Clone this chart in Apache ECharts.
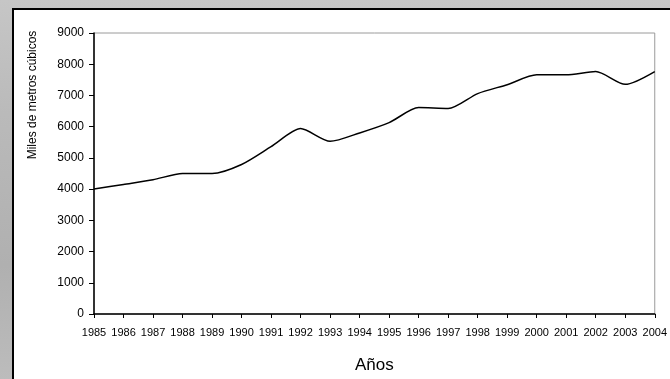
<!DOCTYPE html>
<html>
<head>
<meta charset="utf-8">
<script src="https://cdn.jsdelivr.net/npm/echarts@6/dist/echarts.min.js"></script>
<style>
html,body{margin:0;padding:0;width:670px;height:379px;overflow:hidden;}
body{background:linear-gradient(180deg,#c6c6c6 0%,#bababa 30%,#b0b0b0 70%,#bcbcbc 100%);position:relative;}
#panel{position:absolute;left:12px;top:8px;width:700px;height:400px;background:#fff;border:2px solid #000;box-sizing:border-box;}
#chart{position:absolute;left:0;top:0;width:670px;height:379px;}
</style>
</head>
<body>
<div id="panel"></div>
<div id="chart"></div>
<script>
var years = ['1985','1986','1987','1988','1989','1990','1991','1992','1993','1994','1995','1996','1997','1998','1999','2000','2001','2002','2003','2004'];
var volumes = [4000,4150,4300,4500,4500,4790,5360,5940,5530,5800,6130,6610,6580,7060,7345,7660,7660,7765,7355,7765];
var yTicks = {min:0, max:9000, interval:1000};
var yAxisName = 'Miles de metros cúbicos';
var xAxisName = 'Años';

var FONT = '"Liberation Sans", Arial, sans-serif';
var chart = echarts.init(document.getElementById('chart'), null, {renderer:'canvas'});
chart.setOption({
  backgroundColor: 'transparent',
  animation: false,
  grid: {left:94, top:33, right:14, bottom:59, show:true, borderColor:'#9a9a9a', borderWidth:1, backgroundColor:'transparent'},
  xAxis: {
    type:'category', data: years, boundaryGap:false,
    name: xAxisName, nameLocation:'middle', nameGap:43,
    nameTextStyle:{fontSize:17, color:'#000', fontFamily:FONT},
    axisLine:{show:true, lineStyle:{color:'#000', width:1.5}},
    axisTick:{show:true, alignWithLabel:true, length:4, lineStyle:{color:'#000', width:1}},
    axisLabel:{fontSize:11, color:'#000', fontFamily:FONT, margin:13, interval:0},
    splitLine:{show:false}
  },
  yAxis: {
    type:'value', min:yTicks.min, max:yTicks.max, interval:yTicks.interval,
    axisLine:{show:true, lineStyle:{color:'#000', width:1.5}},
    axisTick:{show:true, length:5, lineStyle:{color:'#000', width:1}},
    axisLabel:{fontSize:12, color:'#000', fontFamily:FONT, margin:10, formatter:function(v){return String(v);}},
    splitLine:{show:false}
  },
  graphic: [{
    type:'text', x:33, y:95, rotation:Math.PI/2,
    style:{text:yAxisName, fontSize:12, fill:'#000', fontFamily:FONT, align:'center', verticalAlign:'middle'}
  }],
  series: [{
    type:'line', data: volumes, smooth:0.25, symbol:'none',
    lineStyle:{color:'#000', width:1.5}
  }]
});
</script>
</body>
</html>
